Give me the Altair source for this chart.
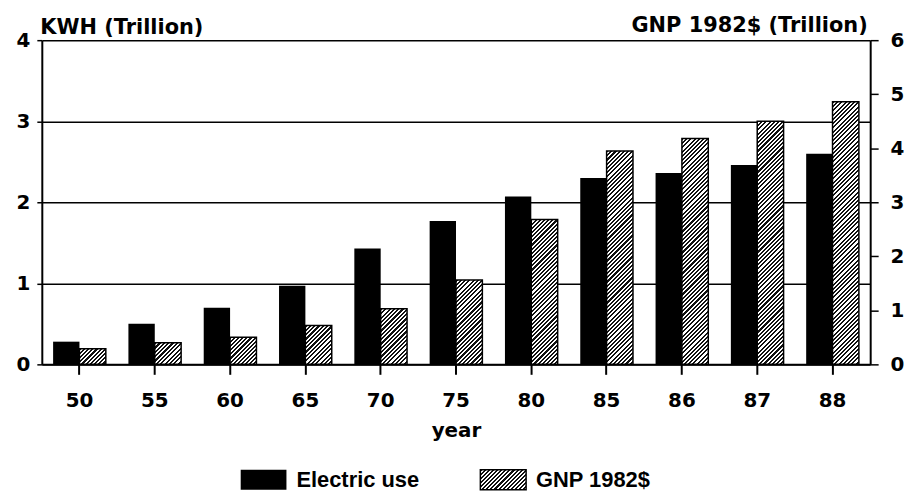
import math
import altair as alt
import pandas as pd

# ---- data ----
years = ["50", "55", "60", "65", "70", "75", "80", "85", "86", "87", "88"]
electric = [0.28, 0.50, 0.70, 0.97, 1.43, 1.77, 2.07, 2.30, 2.36, 2.46, 2.60]   # KWH trillion
gnp = [0.29, 0.40, 0.50, 0.72, 1.03, 1.56, 2.68, 3.95, 4.18, 4.50, 4.86]        # GNP 1982$ trillion
series = ["Electric use", "GNP 1982$"]
kwh_ticks = [0, 1, 2, 3, 4]
gnp_ticks = [0, 1, 2, 3, 4, 5, 6]

# ---- layout / style ----
W, H = 833, 326
PAD_IN, PAD_OUT = 0.30, 0.15
KWH_MAX, GNP_MAX = 4, 6
NUM_FONT = "DejaVu Sans"
LEG_FONT = "Liberation Sans"

step = W / (len(years) - PAD_IN + 2 * PAD_OUT)
bar_w = step * (1 - PAD_IN) / 2


def hatch(w, h, spacing=3.0, ink=0.5):
    """Diagonal '////' hatching as a striped linear gradient sized to a w x h box."""
    n = max(2, round((w + h) / (spacing * math.sqrt(2))))
    k = (w + h) / (w * w + h * h)
    stops = []
    for i in range(n):
        a, b, c = i / n, (i + ink) / n, (i + 1) / n
        stops += [
            {"offset": a, "color": "#111111"},
            {"offset": b, "color": "#111111"},
            {"offset": b, "color": "#ffffff"},
            {"offset": c, "color": "#ffffff"},
        ]
    return {"gradient": "linear", "x1": 0, "y1": 0, "x2": k * w, "y2": k * h, "stops": stops}


rows = []
for y, e, g in zip(years, electric, gnp):
    rows.append({"year": y, "series": series[0], "value": e})
    rows.append({"year": y, "series": series[1], "value": g})
df = pd.DataFrame(rows)

common_axis = dict(
    domainColor="black", domainWidth=2, tickColor="black",
    labelFont=NUM_FONT, labelFontWeight="bold", labelFontSize=20, labelColor="black",
    titleFont=NUM_FONT, titleFontWeight="bold", titleFontSize=21, titleColor="black",
)

x_enc = alt.X(
    "year:N", sort=years,
    scale=alt.Scale(paddingInner=PAD_IN, paddingOuter=PAD_OUT),
    axis=alt.Axis(
        title="year", labelAngle=0, tickSize=10, tickWidth=2, labelPadding=16,
        titlePadding=11, **{**common_axis, "titleFontSize": 20},
    ),
)
xo_enc = alt.XOffset("series:N", scale=alt.Scale(domain=series, paddingInner=0, paddingOuter=0))

left_axis = alt.Axis(
    values=kwh_ticks, format="d", grid=True, gridColor="black", gridWidth=1.5, gridOpacity=1,
    tickSize=5, tickWidth=1.5, labelPadding=7,
    title="KWH (Trillion)", titleAngle=0, titleAlign="left", titleBaseline="alphabetic",
    titleX=-2, titleY=-7, **common_axis,
)
right_axis = alt.Axis(
    orient="right", values=gnp_ticks, format="d", grid=False,
    tickSize=8, tickWidth=1.5, labelPadding=12,
    title="GNP 1982$ (Trillion)", titleAngle=0, titleAlign="right", titleBaseline="alphabetic",
    titleX=-3, titleY=-9, **common_axis,
)

fill_cond = {
    "condition": [
        {"test": f"datum.year === '{y}'", "value": hatch(bar_w, v / GNP_MAX * H)}
        for y, v in zip(years, gnp)
    ],
    "value": "#777777",
}

elec_layer = (
    alt.Chart(df)
    .transform_filter(alt.datum.series == series[0])
    .mark_bar(color="black")
    .encode(
        x=x_enc, xOffset=xo_enc,
        y=alt.Y("value:Q", scale=alt.Scale(domain=[0, KWH_MAX], nice=False), axis=left_axis),
    )
)
gnp_layer = (
    alt.Chart(df)
    .transform_filter(alt.datum.series == series[1])
    .mark_bar(stroke="black", strokeWidth=1.5)
    .encode(
        x=x_enc, xOffset=xo_enc,
        y=alt.Y("value:Q", scale=alt.Scale(domain=[0, GNP_MAX], nice=False), axis=right_axis),
        fill=fill_cond,
    )
)
main = alt.layer(elec_layer, gnp_layer).resolve_scale(y="independent").properties(width=W, height=H)

# ---- legend ----
leg_df = pd.DataFrame({"series": series})
leg_x = alt.X("series:N", scale=alt.Scale(type="point", domain=series, range=[223, 464], padding=0),
              axis=None)
swatch = "M-1.15,-0.5H1.15V0.5H-1.15Z"
sw_e = (
    alt.Chart(leg_df).transform_filter(alt.datum.series == series[0])
    .mark_point(shape=swatch, size=1600, filled=True, fill="black", opacity=1, strokeWidth=0)
    .encode(x=leg_x)
)
sw_g = (
    alt.Chart(leg_df).transform_filter(alt.datum.series == series[1])
    .mark_point(shape=swatch, size=1600, filled=True, stroke="black", strokeWidth=1.5, opacity=1)
    .encode(x=leg_x, fill=alt.value(hatch(46, 20)))
)
leg_txt = (
    alt.Chart(leg_df)
    .mark_text(align="left", baseline="middle", dx=33, font=LEG_FONT, fontWeight="bold",
               fontSize=22, color="black")
    .encode(x=leg_x, text="series:N")
)
legend = alt.layer(sw_e, sw_g, leg_txt).properties(width=W, height=20)

chart = (
    alt.vconcat(main, legend, spacing=26)
    .properties(padding={"left": 8, "top": 5, "right": 0, "bottom": 0}, background="white")
    .configure_view(stroke=None)
)

chart.save("out.html", embed_options={"renderer": "svg", "actions": False})
